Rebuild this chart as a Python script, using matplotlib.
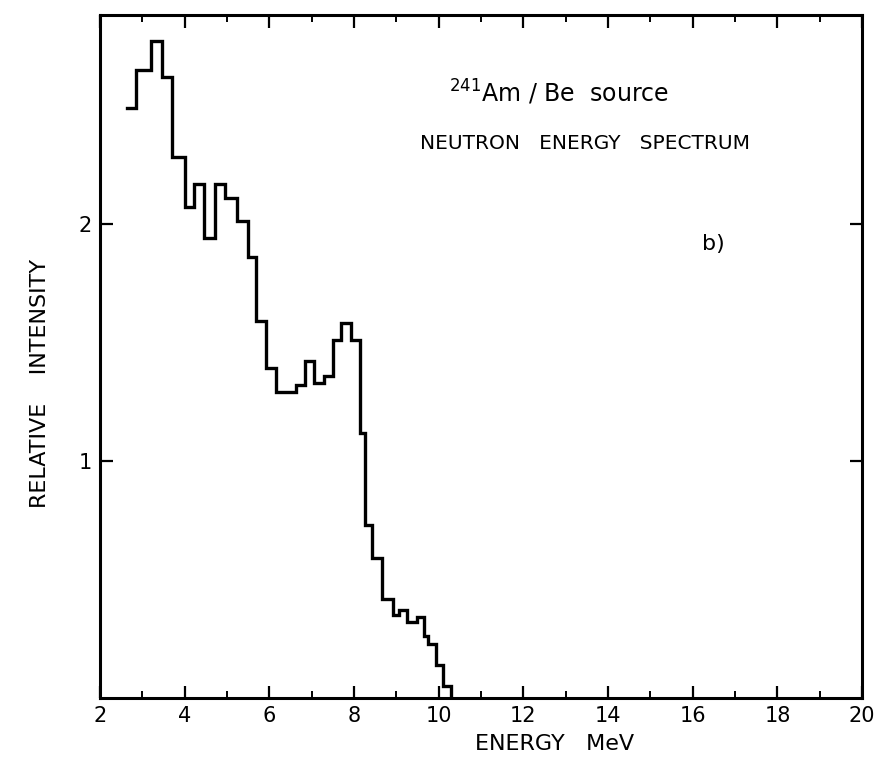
import numpy as np
import matplotlib
matplotlib.use("Agg")
import matplotlib.pyplot as plt
from matplotlib.ticker import MultipleLocator

# Am/Be neutron spectrum, bin edges in MeV and relative intensity per bin
edges = [2.64, 2.86, 3.21, 3.47, 3.71, 4.00, 4.23, 4.45, 4.71, 4.95, 5.23,
         5.49, 5.68, 5.92, 6.16, 6.63, 6.85, 7.06, 7.30, 7.51, 7.70, 7.94,
         8.13, 8.25, 8.43, 8.67, 8.91, 9.06, 9.25, 9.48, 9.66, 9.75, 9.93,
         10.10, 10.29]
intensity = [2.49, 2.65, 2.77, 2.62, 2.28, 2.07, 2.17, 1.94, 2.17, 2.11,
             2.01, 1.86, 1.59, 1.39, 1.29, 1.32, 1.42, 1.33, 1.36, 1.51,
             1.58, 1.51, 1.12, 0.73, 0.59, 0.42, 0.35, 0.37, 0.32, 0.34,
             0.26, 0.23, 0.14, 0.05]

x_ticks = [2, 4, 6, 8, 10, 12, 14, 16, 18, 20]
y_ticks = [1, 2]

plt.rcParams['font.family'] = ['DejaVu Sans']

fig = plt.figure(figsize=(8.77, 7.58), dpi=100)
ax = fig.add_axes([0.114, 0.079, 0.869, 0.901])

# step outline: open on the left, dropping to zero at the last edge
xs = np.repeat(edges, 2)[1:-1]
ys = np.repeat(intensity, 2)
xs = np.append(xs, edges[-1])
ys = np.append(ys, 0.0)
ax.plot(xs, ys, color='black', linewidth=2.4, solid_joinstyle='miter')

ax.set_xlim(2, 20)
ax.set_ylim(0, 2.88)

ax.set_xticks(x_ticks)
ax.xaxis.set_minor_locator(MultipleLocator(1))
ax.set_yticks(y_ticks)
ax.tick_params(axis='both', which='major', direction='in', length=9, width=1.6,
               top=True, right=True, labelsize=15, pad=6)
ax.tick_params(axis='x', which='minor', direction='in', length=5, width=1.4,
               top=True)
for s in ax.spines.values():
    s.set_linewidth(2.2)

ax.set_xlabel("ENERGY   MeV", fontsize=16)
ax.xaxis.set_label_coords(0.596, -0.052)
ax.set_ylabel("RELATIVE    INTENSITY", fontsize=16)
ax.yaxis.set_label_coords(-0.066, 0.461)

ax.text(0.458, 0.887, r"$^{241}$Am / Be  source", transform=ax.transAxes,
        fontsize=17, ha='left', va='center')
ax.text(0.42, 0.8126, "NEUTRON   ENERGY   SPECTRUM", transform=ax.transAxes,
        fontsize=14.5, ha='left', va='center')
ax.text(0.79, 0.665, "b)", transform=ax.transAxes, fontsize=16,
        ha='left', va='center')

fig.savefig("out.png", dpi=100)
